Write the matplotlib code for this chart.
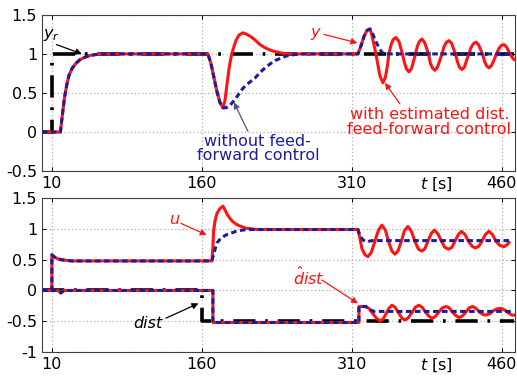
import matplotlib
matplotlib.use('Agg')
import matplotlib.pyplot as plt
from matplotlib.ticker import FuncFormatter

plt.rcParams['font.family'] = ['DejaVu Sans']
plt.rcParams['font.size'] = 11.5
plt.rcParams['axes.unicode_minus'] = False
plt.rcParams['lines.scale_dashes'] = False
plt.rcParams['mathtext.fontset'] = 'dejavusans'

### data (t in s)
x_ticks = [10, 160, 310, 460]
x_label = '$t$ [s]'
x_label_pos = 394

# top: reference and output
t_ref = [0, 10, 10, 472]
y_ref = [0, 0, 1, 1]

t_rise = [0, 18.5, 20.5, 22.6, 24.8, 27, 30, 34, 38.5, 43.5, 48, 53, 60, 166, 169, 172, 175, 178, 181]
y_rise = [0, 0, 0.22, 0.44, 0.60, 0.72, 0.81, 0.88, 0.93, 0.96, 0.98, 0.99, 1.0, 1.0, 0.88, 0.70, 0.52, 0.38, 0.31]

t_y_ff = t_rise + [183, 185, 187, 189, 191, 194, 197, 201, 205, 209, 213, 218, 223, 228, 233, 240, 248,
                   316, 319, 322, 325, 328, 330, 332, 334, 336, 338, 341, 343.5, 345.5, 347, 349, 351,
                   354, 357, 359, 360.5, 362.5, 364.5, 367, 369.5, 371.5, 373.5, 375.5, 377.5, 380,
                   382.5, 384.5, 386.5, 388.5, 390.5, 393, 395.5, 397.5, 400, 402, 404.5, 407, 409.5,
                   411.5, 413.5, 415.5, 417.5, 420, 422.5, 424.5, 427, 429, 431.5, 434, 436.5, 438.5,
                   440.5, 442.5, 444.5, 447, 449.5, 452, 454.5, 457, 459.5, 462, 464.5, 466.5, 468,
                   470, 472]
y_y_ff = y_rise + [0.40, 0.60, 0.80, 0.95, 1.05, 1.17, 1.24, 1.27, 1.25, 1.22, 1.18, 1.12, 1.08, 1.05,
                   1.03, 1.01, 1.0,
                   1.0, 1.10, 1.22, 1.30, 1.32, 1.24, 1.12, 1.0, 0.86, 0.72, 0.63, 0.70, 0.85, 1.0,
                   1.11, 1.18, 1.21, 1.16, 1.07, 1.0, 0.89, 0.81, 0.77, 0.81, 0.90, 1.0, 1.10, 1.16,
                   1.19, 1.15, 1.08, 1.0, 0.88, 0.82, 0.79, 0.83, 0.90, 1.0, 1.09, 1.15, 1.17, 1.14,
                   1.07, 1.0, 0.90, 0.83, 0.80, 0.83, 0.91, 1.0, 1.08, 1.13, 1.15, 1.12, 1.06, 1.0,
                   0.91, 0.85, 0.82, 0.85, 0.92, 1.0, 1.07, 1.11, 1.12, 1.09, 1.04, 1.0, 0.96, 0.93]

t_y_noff = t_rise + [184, 188, 192, 196, 201, 207, 213, 218, 223, 228, 234, 240, 246, 252, 260,
                     316, 319, 322, 325, 328, 331, 334, 337, 340, 343, 472]
y_y_noff = y_rise + [0.31, 0.34, 0.40, 0.47, 0.56, 0.63, 0.69, 0.76, 0.82, 0.87, 0.92, 0.95, 0.98,
                     0.99, 1.0,
                     1.0, 1.10, 1.22, 1.30, 1.32, 1.25, 1.16, 1.08, 1.02, 1.0, 1.0]

# bottom: control signal
t_u0 = [0, 10, 10, 12, 15, 19, 24, 30, 170]
u_u0 = [0, 0, 0.58, 0.55, 0.52, 0.50, 0.49, 0.48, 0.48]

t_u_ff = t_u0 + [171, 171.7, 173, 175, 178, 181, 183, 185.5, 188, 190.7, 194, 197.5, 204.5, 215,
                 316, 318, 320, 323, 326, 329.5, 333, 336.5, 340, 343.5, 346.5, 350, 353, 356,
                 359.5, 362.5, 366, 369.5, 373, 376.5, 380, 383, 386, 389.5, 392.5, 396, 399.5,
                 403, 406.5, 410, 413, 416.5, 419.5, 423, 426.5, 430, 433.5, 437, 440, 443.5, 447,
                 450.5, 454, 458, 462, 465, 467]
u_u_ff = u_u0 + [0.70, 0.96, 1.12, 1.25, 1.33, 1.37, 1.31, 1.23, 1.17, 1.12, 1.08, 1.05, 1.01, 0.99,
                 0.99, 0.85, 0.68, 0.58, 0.55, 0.62, 0.80, 0.98, 1.06, 0.98, 0.80, 0.64, 0.59, 0.64,
                 0.80, 0.97, 1.04, 0.96, 0.80, 0.67, 0.64, 0.68, 0.80, 0.93, 0.98, 0.92, 0.80,
                 0.70, 0.67, 0.70, 0.80, 0.91, 0.96, 0.91, 0.80, 0.72, 0.69, 0.72, 0.80, 0.91, 0.96,
                 0.91, 0.80, 0.73, 0.71, 0.74, 0.78]

t_u_noff = t_u0 + [172, 175, 179, 184, 189, 194, 200, 208, 316, 318, 321, 325, 330, 467]
u_u_noff = u_u0 + [0.60, 0.77, 0.85, 0.90, 0.93, 0.96, 0.98, 0.99, 0.99, 0.90, 0.82, 0.79, 0.81, 0.81]

# bottom: disturbance and its estimate
t_dist = [0, 160, 160, 472]
dist = [0, 0, -0.5, -0.5]

t_dh0 = [0, 16, 19, 22, 171, 171, 317, 317]
d_dh0 = [0, 0, -0.04, 0, 0, -0.52, -0.52, -0.26]

t_dh_ff = t_dh0 + [323, 327, 331, 335, 338, 341, 344, 347, 350, 353, 356.5, 360, 363, 366, 370,
                   373.5, 377, 380, 383.5, 387, 390, 393, 397, 400.5, 404, 407, 410.5, 414, 417,
                   420, 424, 427.5, 430.5, 434, 437.5, 441, 444, 447.5, 451.5, 455, 459, 463, 467,
                   470, 472]
d_dh_ff = d_dh0 + [-0.26, -0.29, -0.38, -0.46, -0.49, -0.47, -0.38, -0.29, -0.24, -0.27, -0.36,
                   -0.45, -0.48, -0.45, -0.36, -0.27, -0.24, -0.27, -0.35, -0.42, -0.45, -0.43,
                   -0.35, -0.28, -0.26, -0.28, -0.35, -0.41, -0.44, -0.42, -0.35, -0.28, -0.26,
                   -0.29, -0.35, -0.39, -0.40, -0.38, -0.33, -0.30, -0.29, -0.32, -0.37, -0.40, -0.40]

t_dh_noff = t_dh0 + [324, 328, 332, 472]
d_dh_noff = d_dh0 + [-0.26, -0.31, -0.34, -0.34]

RED = '#ff1414'
BLUE = '#1c1c9c'
GRID = '#b4b4b4'
DASHDOT = (0, (16, 7, 2, 7))
DASHED = (0, (4, 2.5))


def style_axes(ax, ylim, yticks):
    ax.set_xlim(0, 473)
    ax.set_ylim(*ylim)
    ax.set_xticks(x_ticks)
    ax.set_yticks(yticks)
    ax.yaxis.set_major_formatter(FuncFormatter(lambda v, p: '%g' % v))
    ax.set_xticks([x_label_pos], minor=True)
    ax.set_xticklabels([x_label], minor=True)
    ax.tick_params(which='major', direction='in', length=3, top=True, right=True, width=0.7)
    ax.tick_params(which='minor', length=0)
    ax.grid(True, which='major', linestyle=':', color=GRID, linewidth=0.9)
    for s in ax.spines.values():
        s.set_color('#404040')
        s.set_linewidth(0.8)


def arrow(ax, start, tip, color):
    ax.annotate('', xy=tip, xytext=start,
                arrowprops=dict(arrowstyle='-|>', color=color, lw=0.9,
                                mutation_scale=9, shrinkA=0, shrinkB=0))


fig = plt.figure(figsize=(5.17, 3.81), dpi=100)
ax1 = fig.add_axes([0.081, 0.551, 0.915, 0.410])
ax2 = fig.add_axes([0.081, 0.076, 0.915, 0.404])

# top panel
ax1.plot(t_ref, y_ref, color='black', lw=2.6, linestyle=DASHDOT, zorder=2)
ax1.plot(t_y_ff, y_y_ff, color=RED, lw=2.2, zorder=3)
ax1.plot(t_y_noff, y_y_noff, color=BLUE, lw=2.2, linestyle=DASHED, zorder=4)
style_axes(ax1, (-0.5, 1.5), [-0.5, 0, 0.5, 1, 1.5])

ax1.text(1, 1.24, '$y_r$', color='black', ha='left', va='center')
arrow(ax1, (14.5, 1.12), (40, 1.0), 'black')
ax1.text(273, 1.27, 'y', color=RED, style='italic', ha='center', va='center')
arrow(ax1, (282, 1.25), (315.5, 1.14), RED)
ax1.text(387.5, 0.13, 'with estimated dist.\nfeed-forward control', color=RED,
         ha='center', va='center', linespacing=0.95)
arrow(ax1, (358, 0.36), (343, 0.63), RED)
ax1.text(216, -0.21, 'without feed-\nforward control', color=BLUE,
         ha='center', va='center', linespacing=0.95)
arrow(ax1, (206, 0.01), (192, 0.38), '#50508a')

# bottom panel
ax2.plot(t_dist, dist, color='black', lw=2.6, linestyle=DASHDOT, zorder=2)
ax2.plot(t_u_ff, u_u_ff, color=RED, lw=2.2, zorder=3)
ax2.plot(t_dh_ff, d_dh_ff, color=RED, lw=2.2, zorder=3)
ax2.plot(t_u_noff, u_u_noff, color=BLUE, lw=2.2, linestyle=DASHED, zorder=4)
ax2.plot(t_dh_noff, d_dh_noff, color=BLUE, lw=2.2, linestyle=DASHED, zorder=4)
style_axes(ax2, (-1, 1.5), [-1, -0.5, 0, 0.5, 1, 1.5])

ax2.text(132, 1.15, 'u', color=RED, style='italic', ha='center', va='center')
arrow(ax2, (139, 1.09), (164.8, 0.90), RED)
ax2.text(106.5, -0.53, 'dist', color='black', style='italic', ha='center', va='center')
arrow(ax2, (124, -0.45), (156.5, -0.21), 'black')
ax2.text(267, 0.22, r'$\hat{d}ist$', color=RED, ha='center', va='center')
arrow(ax2, (280, 0.17), (316, -0.21), RED)

fig.savefig('out.png', dpi=100)
